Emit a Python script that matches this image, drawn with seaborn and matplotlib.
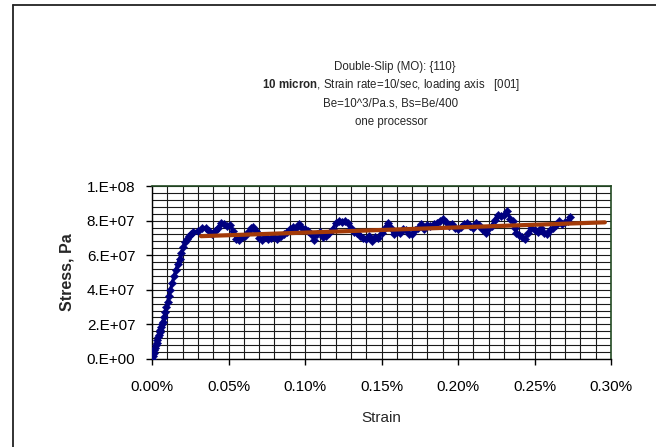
import numpy as np
import pandas as pd
import matplotlib
matplotlib.use("Agg")
import matplotlib.pyplot as plt
from matplotlib.ticker import MultipleLocator, FuncFormatter
from matplotlib.lines import Line2D
import seaborn as sns

# ---- data (strain in %, stress in units of 1e7 Pa) ----
rise_strain = [0.0, 0.0005, 0.001, 0.0015, 0.002, 0.0025, 0.003, 0.0035, 0.004, 0.0045,
               0.005, 0.0055, 0.006, 0.0065, 0.007, 0.0078, 0.0086, 0.0094, 0.0102, 0.011,
               0.012, 0.0132, 0.0144, 0.0156, 0.0168, 0.018, 0.0192, 0.0204, 0.0216, 0.0228,
               0.024, 0.0255]
rise_stress = [0.0, 0.2, 0.35, 0.5, 0.65, 0.8, 0.95, 1.1, 1.25, 1.4,
               1.55, 1.7, 1.85, 2.0, 2.15, 2.4, 2.7, 3.0, 3.3, 3.65,
               4.0, 4.4, 4.8, 5.15, 5.5, 5.8, 6.15, 6.5, 6.75, 6.95,
               7.1, 7.25]

plateau_strain = [0.027, 0.030, 0.033, 0.035, 0.037, 0.039, 0.041, 0.043, 0.045, 0.047,
                  0.049, 0.051, 0.053, 0.055, 0.057, 0.059, 0.061, 0.063, 0.065, 0.066,
                  0.068, 0.070, 0.072, 0.074, 0.076, 0.078, 0.080, 0.082, 0.084, 0.086,
                  0.088, 0.090, 0.092, 0.094, 0.096, 0.098, 0.100, 0.102, 0.104, 0.106,
                  0.108, 0.110, 0.112, 0.114, 0.116, 0.118, 0.120, 0.122, 0.124, 0.126,
                  0.128, 0.130, 0.132, 0.134, 0.136, 0.138, 0.140, 0.142, 0.144, 0.146,
                  0.148, 0.150, 0.152, 0.154, 0.156, 0.158, 0.160, 0.162, 0.164, 0.166,
                  0.168, 0.170, 0.172, 0.174, 0.176, 0.178, 0.180, 0.182, 0.184, 0.186,
                  0.188, 0.190, 0.192, 0.194, 0.196, 0.198, 0.200, 0.202, 0.204, 0.206,
                  0.208, 0.210, 0.212, 0.214, 0.216, 0.218, 0.220, 0.222, 0.224, 0.226,
                  0.228, 0.230, 0.232, 0.234, 0.236, 0.237, 0.238, 0.240, 0.242, 0.244,
                  0.246, 0.248, 0.250, 0.252, 0.254, 0.256, 0.258, 0.260, 0.262, 0.264,
                  0.266, 0.268, 0.270, 0.272, 0.273]
plateau_stress = [7.35, 7.4, 7.55, 7.6, 7.4, 7.25, 7.4, 7.6, 7.85, 7.8,
                  7.7, 7.75, 7.4, 6.95, 6.9, 7.05, 7.1, 7.35, 7.55, 7.65,
                  7.4, 7.0, 6.9, 7.05, 6.95, 7.0, 7.05, 6.95, 7.1, 7.2,
                  7.35, 7.5, 7.65, 7.6, 7.8, 7.6, 7.5, 7.4, 7.2, 6.9,
                  7.25, 7.35, 7.05, 7.1, 7.3, 7.5, 7.85, 8.0, 7.9, 8.0,
                  7.85, 7.6, 7.35, 7.3, 7.1, 7.0, 6.95, 7.1, 6.8, 7.05,
                  7.0, 7.3, 7.55, 7.85, 7.55, 7.2, 7.35, 7.3, 7.5, 7.45,
                  7.25, 7.2, 7.45, 7.6, 7.8, 7.5, 7.75, 7.7, 7.8, 7.85,
                  8.0, 8.1, 7.9, 7.7, 7.8, 7.55, 7.5, 7.65, 7.8, 7.85,
                  7.7, 7.6, 7.85, 7.75, 7.5, 7.3, 7.55, 7.7, 8.05, 8.35,
                  8.25, 8.35, 8.55, 8.1, 8.0, 7.6, 7.3, 7.15, 7.05, 6.95,
                  7.3, 7.6, 7.45, 7.35, 7.55, 7.3, 7.2, 7.45, 7.55, 7.75,
                  7.95, 7.8, 7.9, 8.0, 8.2]

trend_strain = [0.032, 0.296]
trend_stress = [7.1, 7.9]

title_lines = ["Double-Slip (MO): {110}",
               r"$\mathbf{10\ micron}$, Strain rate=10/sec, loading axis   [001]",
               "Be=10^3/Pa.s, Bs=Be/400",
               "one processor"]
x_label = "Strain"
y_label = "Stress, Pa"

# ---- build frames ----
strain = np.array(rise_strain + plateau_strain)
stress = np.array(rise_stress + plateau_stress) * 1e7
df = pd.DataFrame({"strain": strain, "stress": stress})
tf = pd.DataFrame({"strain": trend_strain, "stress": np.array(trend_stress) * 1e7})

sns.set_style("white")
plt.rcParams["font.family"] = ["Liberation Sans", "DejaVu Sans"]
plt.rcParams["mathtext.fontset"] = "custom"
plt.rcParams["mathtext.rm"] = "Liberation Sans"
plt.rcParams["mathtext.bf"] = "Liberation Sans:bold"

W, H = 656, 447
fig = plt.figure(figsize=(W / 100, H / 100), dpi=100)
fig.patch.set_facecolor("white")
L, R, T, B = 152, 611, 186, 359
ax = fig.add_axes([L / W, 1 - B / H, (R - L) / W, (B - T) / H])
ax.set_facecolor("white")

navy = "#000080"
sns.lineplot(data=df, x="strain", y="stress", ax=ax, color=navy, lw=2.2,
             sort=False, estimator=None, zorder=3)
sns.scatterplot(data=df, x="strain", y="stress", ax=ax, color=navy, marker="D",
                s=18, edgecolor=navy, linewidth=0.3, zorder=4)
sns.lineplot(data=tf, x="strain", y="stress", ax=ax, color="#a33a08", lw=3,
             sort=False, estimator=None, zorder=5)

ax.set_xlim(0, 0.30)
ax.set_ylim(0, 1e8)
ax.xaxis.set_major_locator(MultipleLocator(0.05))
ax.xaxis.set_minor_locator(MultipleLocator(0.01))
ax.yaxis.set_major_locator(MultipleLocator(2e7))
ax.yaxis.set_minor_locator(MultipleLocator(4e6))
ax.xaxis.set_major_formatter(FuncFormatter(lambda v, p: f"{v:.2f}%"))


def yfmt(v, p):
    if v == 0:
        return "0.E+00"
    e = int(np.floor(np.log10(abs(v)) + 1e-9))
    return f"{v / 10 ** e:.0f}.E+{e:02d}"


ax.yaxis.set_major_formatter(FuncFormatter(yfmt))
ax.grid(True, which="both", color="#1a1a1a", lw=0.8, zorder=0)
ax.set_axisbelow(True)

for s in ["top", "right"]:
    ax.spines[s].set_color("#234a23")
    ax.spines[s].set_linewidth(1.2)
for s in ["left", "bottom"]:
    ax.spines[s].set_color("#000000")
    ax.spines[s].set_linewidth(1.0)

ax.tick_params(axis="both", which="major", direction="out", length=4, width=1,
               color="black", labelsize=11, labelcolor="black")
ax.tick_params(axis="x", which="major", pad=11)
ax.tick_params(axis="y", which="major", pad=8)
ax.tick_params(which="minor", length=0)
ax.tick_params(left=True, bottom=True)

ax.set_xlabel(x_label, fontsize=11)
ax.set_ylabel(y_label, fontsize=11.5, fontweight="bold")
ax.xaxis.set_label_coords(0.499, -0.30)
ax.yaxis.set_label_coords(-0.168, 0.5)

for (xtxt, ytxt), txt in zip([(395, 67), (391, 85), (391, 103), (391, 122)], title_lines):
    fig.text(xtxt / W, 1 - ytxt / H, txt, ha="center", va="center", fontsize=8.3)

# outer chart frame (left and top edges visible)
fig.add_artist(Line2D([13 / W, 13 / W], [0, 1 - 5 / H], color="#222222", lw=1.3,
                      transform=fig.transFigure))
fig.add_artist(Line2D([13 / W, 1], [1 - 5 / H, 1 - 5 / H], color="#222222", lw=1.3,
                      transform=fig.transFigure))

fig.savefig("out.png", dpi=100, facecolor="white")
